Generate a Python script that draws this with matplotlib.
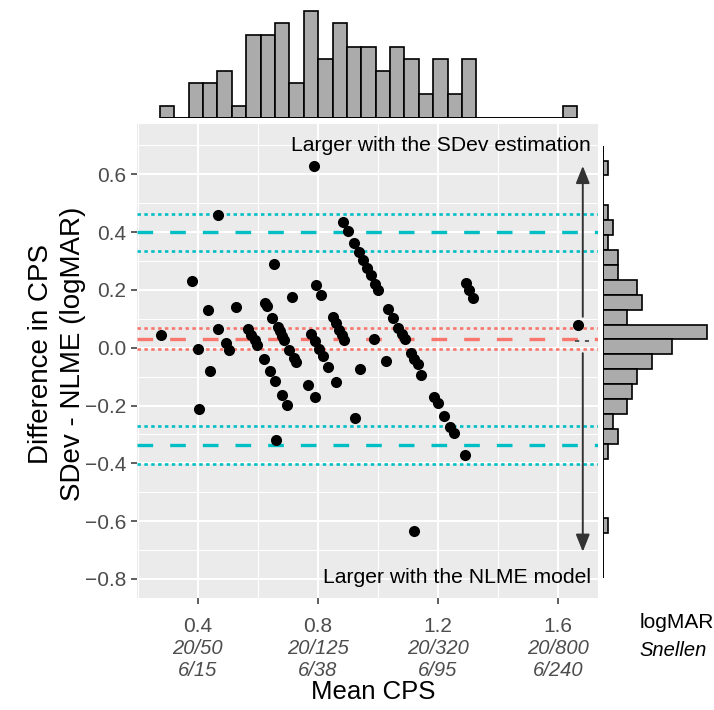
# Bland-Altman style plot: SDev vs NLME estimates of CPS, with marginal histograms
import numpy as np
import matplotlib
matplotlib.use("Agg")
import matplotlib.pyplot as plt
from matplotlib.transforms import blended_transform_factory

plt.rcParams['font.family'] = ['Liberation Sans', 'DejaVu Sans']

# Scatter data (mean CPS, difference SDev - NLME)
mean_cps = [0.277, 0.382, 0.401, 0.404, 0.434, 0.441, 0.468, 0.469, 0.493, 0.504,
            0.529, 0.568, 0.579, 0.590, 0.597, 0.621, 0.623, 0.630, 0.641, 0.649,
            0.654, 0.658, 0.660, 0.666, 0.674, 0.682, 0.688, 0.682, 0.699, 0.704,
            0.713, 0.719, 0.727, 0.766, 0.777, 0.786, 0.789, 0.790, 0.793, 0.804,
            0.810, 0.816, 0.835, 0.849, 0.860, 0.871, 0.879, 0.888, 0.862, 0.884,
            0.901, 0.921, 0.923, 0.938, 0.939, 0.950, 0.963, 0.977, 0.986, 0.990,
            1.001, 1.027, 1.034, 1.050, 1.068, 1.080, 1.090, 1.110, 1.121, 1.132,
            1.145, 1.121, 1.187, 1.199, 1.220, 1.241, 1.252, 1.290, 1.293, 1.304,
            1.317, 1.666]
diff_cps = [0.045, 0.230, -0.005, -0.212, 0.130, -0.082, 0.065, 0.459, 0.016, -0.009,
            0.141, 0.063, 0.045, 0.028, 0.010, -0.038, 0.155, 0.143, -0.080, 0.103,
            0.290, -0.116, -0.319, 0.072, 0.057, 0.042, 0.028, -0.162, -0.198, -0.009,
            0.175, -0.036, -0.050, -0.128, 0.046, 0.630, -0.172, 0.024, 0.216, -0.004,
            0.184, -0.028, -0.067, 0.106, 0.086, 0.062, 0.043, 0.025, -0.120, 0.436,
            0.404, 0.361, -0.242, 0.331, -0.074, 0.305, 0.277, 0.250, 0.031, 0.222,
            0.199, -0.046, 0.133, 0.102, 0.068, 0.048, 0.030, -0.018, -0.040, -0.058,
            -0.093, -0.635, -0.170, -0.192, -0.238, -0.275, -0.295, -0.372, 0.225, 0.199,
            0.172, 0.077]

# Bias and limits of agreement with their confidence bounds
bias = 0.031
bias_ci = [0.068, -0.005]
loa = [0.401, -0.337]
loa_ci = [0.463, 0.334, -0.272, -0.401]

# Marginal histogram counts
top_start, top_width = 0.2745, 0.04787
top_counts = [1, 0, 3, 3, 4, 1, 7, 7, 8, 3, 9, 5, 8, 6, 6, 4, 6, 5, 2, 5, 2, 5,
              0, 0, 0, 0, 0, 0, 1]
right_top, right_height = 0.699, 0.05157
right_counts = [0, 1, 0, 0, 1, 2, 1, 3, 3, 7, 8, 5, 21, 14, 10, 7, 6, 5, 2, 3, 1,
                0, 0, 0, 0, 1, 0, 0, 0]

x_ticks = [0.4, 0.8, 1.2, 1.6]
x_labels = ['0.4', '0.8', '1.2', '1.6']
snellen_us = ['20/50', '20/125', '20/320', '20/800']
snellen_uk = ['6/15', '6/38', '6/95', '6/240']
y_ticks = [-0.8, -0.6, -0.4, -0.2, 0.0, 0.2, 0.4, 0.6]

CYAN = '#00BFC4'
RED = '#F8766D'
W, H = 714, 710

fig = plt.figure(figsize=(W / 100, H / 100), dpi=100)

def px_axes(left, top, right, bottom):
    return fig.add_axes([left / W, 1 - bottom / H, (right - left) / W, (bottom - top) / H])

ax = px_axes(137, 124, 597.5, 598)
ax_top = px_axes(137, 0, 597.5, 118.3)
ax_right = px_axes(602.7, 124, 714, 598)

xlim = (0.198, 1.731)
ylim = (-0.866, 0.774)

# Main panel, ggplot grey theme
ax.set_facecolor('#EBEBEB')
for s in ax.spines.values():
    s.set_visible(False)
ax.set_xlim(*xlim)
ax.set_ylim(*ylim)
ax.set_xticks(x_ticks)
ax.set_xticklabels(x_labels)
ax.set_xticks([0.2, 0.6, 1.0, 1.4], minor=True)
ax.set_yticks(y_ticks)
ax.set_yticklabels([('%.1f' % v).replace('-', '\u2212') for v in y_ticks])
ax.set_yticks(np.arange(-0.7, 0.75, 0.2), minor=True)
ax.grid(which='major', color='white', lw=1.45)
ax.grid(which='minor', color='white', lw=0.72)
ax.set_axisbelow(True)
ax.tick_params(which='major', length=4, width=1.1, color='#333333',
               labelsize=15, labelcolor='#4D4D4D', pad=4)
ax.tick_params(axis='x', which='major', pad=10)
ax.tick_params(which='minor', length=0)

for v in loa_ci:
    ax.axhline(v, color=CYAN, lw=1.9, ls=(0, (1.3, 1.3)))
for v in loa:
    ax.axhline(v, color=CYAN, lw=2.4, ls=(0, (4.7, 5.1)))
for v in bias_ci:
    ax.axhline(v, color=RED, lw=1.9, ls=(0, (1.3, 1.3)))
ax.axhline(bias, color=RED, lw=2.4, ls=(0, (4.7, 5.1)))

ax.scatter(mean_cps, diff_cps, s=64, color='black', zorder=3, linewidths=0)

ax.plot([1.6556, 1.703], [0.024, 0.024], color='#555555', lw=1.4, ls=(0, (2.2, 2.9)))

arrow_kw = dict(arrowstyle='-|>,head_length=1.05,head_width=0.42', color='#333333',
                lw=1.4, shrinkA=0, shrinkB=0)
ax.annotate('', xy=(1.682, 0.629), xytext=(1.682, 0.107), arrowprops=arrow_kw)
ax.annotate('', xy=(1.682, -0.706), xytext=(1.682, -0.019), arrowprops=arrow_kw)

ax.text(1.709, 0.701, 'Larger with the SDev estimation', ha='right', va='center',
        fontsize=15.2, color='black')
ax.text(1.709, -0.794, 'Larger with the NLME model', ha='right', va='center',
        fontsize=15.2, color='black')

# Snellen equivalents under the logMAR tick labels
trans = blended_transform_factory(ax.transData, fig.transFigure)
for xv, us, uk in zip(x_ticks, snellen_us, snellen_uk):
    ax.text(xv, 1 - 648 / H, us, transform=trans, ha='center', va='center',
            fontsize=14.5, style='italic', color='#4D4D4D')
    ax.text(xv, 1 - 671 / H, uk, transform=trans, ha='center', va='center',
            fontsize=14.5, style='italic', color='#4D4D4D')
fig.text(677 / W, 1 - 622 / H, 'logMAR', ha='center', va='center', fontsize=15)
fig.text(673 / W, 1 - 650 / H, 'Snellen', ha='center', va='center', fontsize=14.5,
         style='italic')

fig.text(373 / W, 1 - 692 / H, 'Mean CPS', ha='center', va='center', fontsize=18.5)
fig.text(57 / W, 1 - 354 / H, 'Difference in CPS\nSDev - NLME (logMAR)', rotation=90,
         ha='center', va='center', fontsize=20, linespacing=1.3, multialignment='center')

# Top marginal histogram
top_edges = top_start + top_width * np.arange(len(top_counts) + 1)
ax_top.bar(top_edges[:-1], top_counts, width=top_width, align='edge',
           color='#ABABAB', edgecolor='black', lw=1.2)
ax_top.hlines(0, top_edges[0], top_edges[-1], color='black', lw=1.2)
ax_top.set_xlim(*xlim)
ax_top.set_ylim(0, 118.3 / 11.92)
ax_top.axis('off')

# Right marginal histogram
right_edges = right_top - right_height * np.arange(len(right_counts) + 1)
ax_right.barh(right_edges[1:], right_counts, height=right_height, align='edge',
              color='#ABABAB', edgecolor='black', lw=1.2)
ax_right.vlines(0, right_edges[-1], right_edges[0], color='black', lw=1.2)
ax_right.set_ylim(*ylim)
ax_right.set_xlim(0, (714 - 602.7) / 4.952)
ax_right.axis('off')

fig.savefig('out.png', dpi=100)
